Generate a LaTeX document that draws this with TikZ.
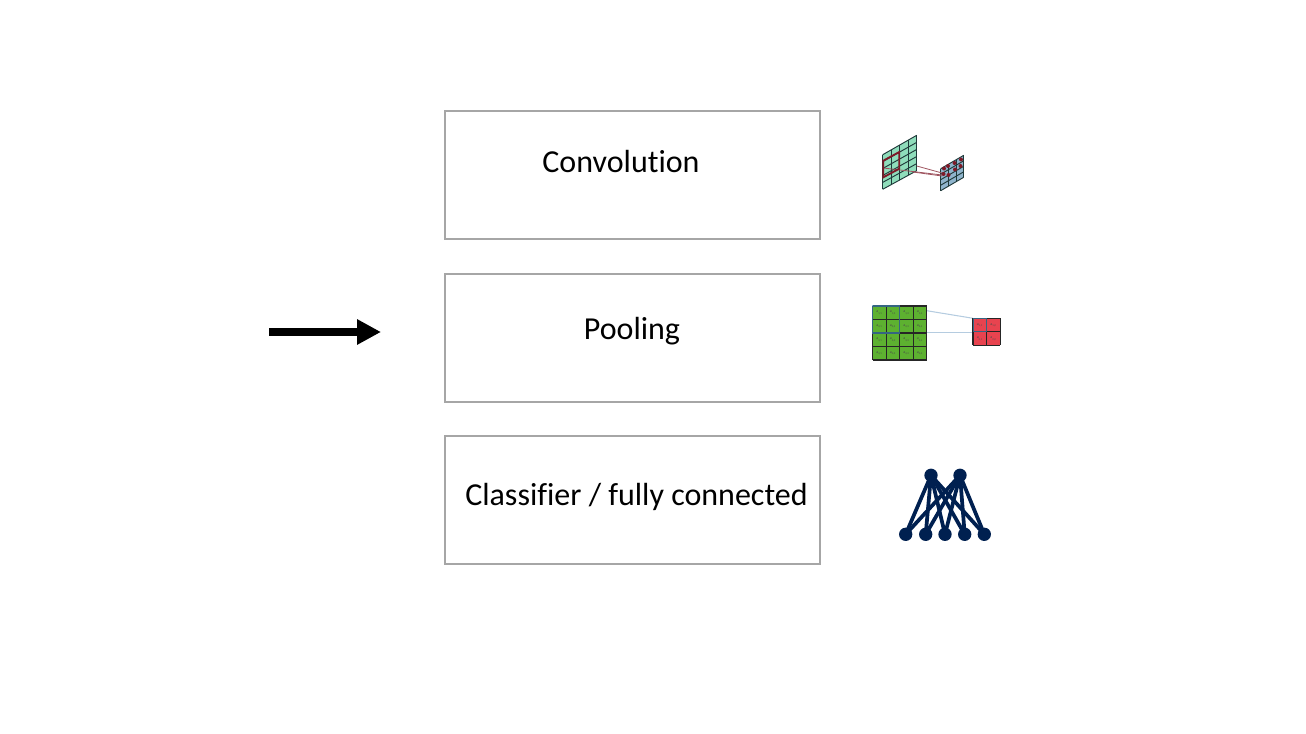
\documentclass[tikz,border=0pt]{standalone}
\usepackage{fontspec}
\setmainfont[Ligatures=NoCommon]{Carlito}
\usetikzlibrary{arrows.meta}
\definecolor{boxgray}{HTML}{A6A6A6}
\definecolor{navy}{HTML}{002050}
\definecolor{convgreen}{HTML}{8FDDBB}
\definecolor{convblue}{HTML}{8FB4CC}
\definecolor{gridline}{HTML}{1F3A3A}
\definecolor{darkred}{HTML}{7E1A28}
\definecolor{poolgreen}{HTML}{5DB130}
\definecolor{poolred}{HTML}{E8434F}
\definecolor{poolblue}{HTML}{3F8FC0}
\definecolor{linkblue}{HTML}{B5CCE0}
\tikzset{
  stagebox/.style={draw=boxgray,line width=1.5pt,minimum width=281.25pt,minimum height=96pt,inner sep=0pt},
  stagelabel/.style={font=\fontsize{24}{28}\selectfont,inner sep=0pt,text=black,anchor=base},
  nnnode/.style={circle,fill=navy,minimum size=10pt,inner sep=0pt},
  nnedge/.style={draw=navy,line width=2.8pt},
  cell/.style={font=\fontsize{3}{3}\selectfont,text=black!70,inner sep=0pt},
  griddraw/.style={draw=gridline,line width=0.7pt},
  blackgrid/.style={draw=black!85,line width=0.8pt},
  bigarrow/.style={draw=black,line width=6pt,-{Triangle[length=18pt,width=18pt]},shorten >=0pt}
}
\begin{document}
\begin{tikzpicture}[x=0.75pt,y=-0.75pt]
\useasboundingbox (0,0) rectangle (1306,734);
% boxes
\node[stagebox] (conv) at (632.5,175) {};
\node[stagebox] (pool) at (632.5,338) {};
\node[stagebox] (clf) at (632.5,500) {};
\node[stagelabel] (convt) at (621,173) {Convolution};
\node[stagelabel] (poolt) at (632,339) {Pooling};
\node[stagelabel] (clft) at (636.5,505) {Classifier / fully connected};
% arrow
\coordinate (arrowa) at (269,332);
\coordinate (arrowb) at (381,332);
\draw[bigarrow] (arrowa) -- (arrowb);
% convolution icon
\fill[convgreen] (882.7,154.7) -- (916.7,135.3) -- (916.7,170.7) -- (882.7,189.3) -- cycle;
\foreach \i in {0,1,2,3,4}{
  \draw[griddraw] ({882.7+\i*8.5},{154.7-\i*4.85}) -- ({882.7+\i*8.5},{189.3-\i*4.65});
}
\foreach \i in {0,1,2,3,4,5}{
  \draw[griddraw] (882.7,{154.7+\i*6.92}) -- (916.7,{135.3+\i*7.08});
}
\fill[convblue] (940.7,168.7) -- (963.7,155.3) -- (963.7,177.3) -- (940.7,190.7) -- cycle;
\foreach \i in {0,1,2,3}{
  \draw[griddraw] ({940.7+\i*7.67},{168.7-\i*4.47}) -- ({940.7+\i*7.67},{190.7-\i*4.47});
}
\foreach \i in {0,1,2,3,4}{
  \draw[griddraw] (940.7,{168.7+\i*5.5}) -- (963.7,{155.3+\i*5.5});
}
\draw[darkred!75,line width=0.6pt] (916.7,166) -- (942,173);
\draw[darkred!75,line width=0.6pt] (883.3,168) -- (942,175);
\draw[darkred!75,line width=0.6pt] (912.7,172) -- (942,176);
\draw[darkred,line width=1.4pt] (883.3,160.7) -- (899.3,152) -- (899.3,168.7) -- (883.3,177.3) -- cycle;
\foreach \p in {(944,168.5),(948.5,175),(954.5,163),(955,169.5),(961,159.5),(960.5,166),(948,166),(943.5,174)}
  \fill[darkred] \p circle (2);
% pooling icon
\fill[poolgreen] (872.7,306) rectangle (926.7,360);
\fill[poolred] (973,318.3) rectangle (1000.3,345.3);
\draw[linkblue,line width=0.8pt] (926.7,310.7) -- (973,318.3);
\draw[linkblue,line width=0.8pt] (926.7,332.3) -- (973,332.3);
\foreach \i in {0,...,4}{
  \draw[blackgrid] ({872.7+\i*13.5},306) -- ({872.7+\i*13.5},360);
  \draw[blackgrid] (872.7,{306+\i*13.5}) -- (926.7,{306+\i*13.5});
}
\foreach \i in {0,1,2}{
  \draw[blackgrid] ({973+\i*13.65},318.3) -- ({973+\i*13.65},345.3);
  \draw[blackgrid] (973,{318.3+\i*13.5}) -- (1000.3,{318.3+\i*13.5});
}
\draw[poolblue,opacity=0.6,line width=0.8pt] (872.7,306) rectangle (899.7,333);
\draw[poolblue,opacity=0.6,line width=0.7pt] (973,318.3) rectangle (986.6,331.8);
\foreach \r in {1,2,3,4}\foreach \c in {1,2,3,4}
  \node[cell] at ({872.7+(\c-0.5)*13.5},{306+(\r-0.5)*13.5}) {a\textsubscript{\r,\c}};
\foreach \r in {1,2}\foreach \c in {1,2}
  \node[cell] at ({973+(\c-0.5)*13.65},{318.3+(\r-0.5)*13.5}) {a\textsubscript{\r,\c}};
% fully connected icon
\node[nnnode] (t1) at (931,475.3) {};
\node[nnnode] (t2) at (960,475.3) {};
\node[nnnode] (b1) at (905.7,534.3) {};
\node[nnnode] (b2) at (925.7,534.3) {};
\node[nnnode] (b3) at (945,534.3) {};
\node[nnnode] (b4) at (964.7,534.3) {};
\node[nnnode] (b5) at (984.3,534.3) {};
\foreach \t in {t1,t2}\foreach \b in {b1,b2,b3,b4,b5}
  \draw[nnedge] (\t.center) -- (\b.center);
\end{tikzpicture}
\end{document}
